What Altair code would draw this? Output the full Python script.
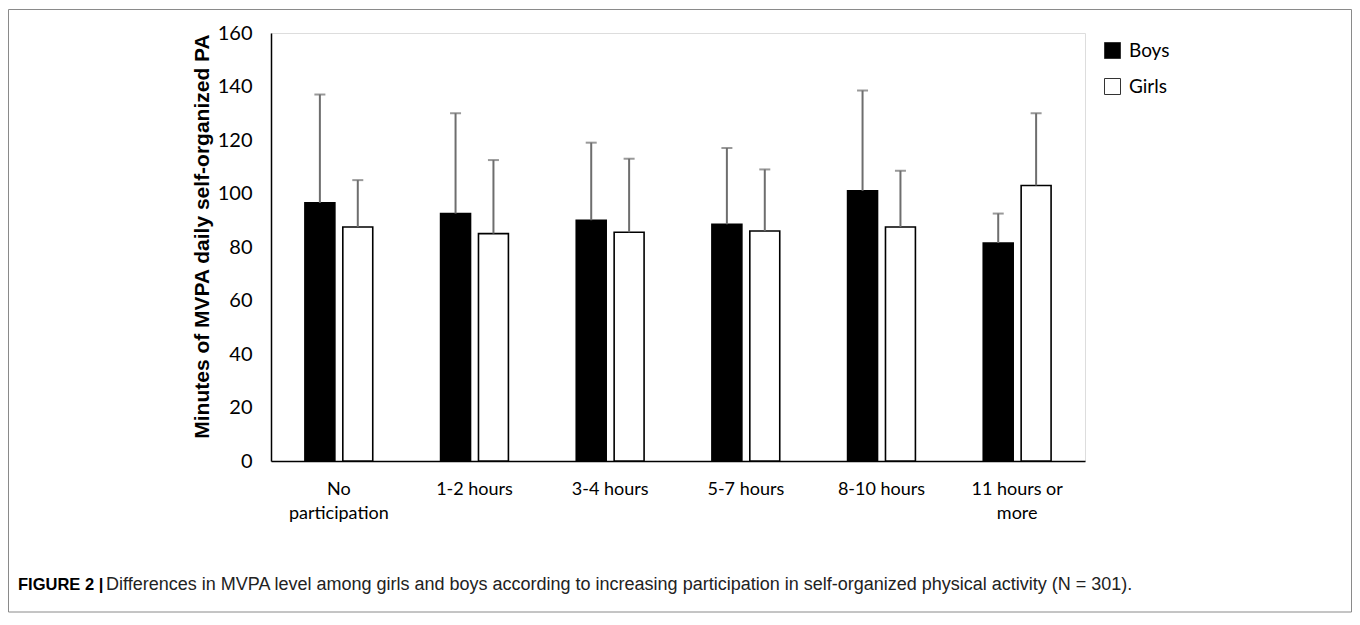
import altair as alt
import pandas as pd

categories = ["No participation", "1-2 hours", "3-4 hours", "5-7 hours", "8-10 hours", "11 hours or more"]
groups = ["Boys", "Girls"]
boys_mean = [96.5, 92.5, 90.0, 88.5, 101.0, 81.5]
boys_sd = [40.5, 37.5, 29.0, 28.5, 37.5, 11.0]
girls_mean = [87.5, 85.0, 85.5, 86.0, 87.5, 103.0]
girls_sd = [17.5, 27.5, 27.5, 23.0, 21.0, 27.0]
y_ticks = [0, 20, 40, 60, 80, 100, 120, 140, 160]

y_title = "Minutes of MVPA daily self-organized PA"
caption_bold = "FIGURE 2 |"
caption_text = ("Differences in MVPA level among girls and boys according to increasing "
                "participation in self-organized physical activity (N = 301).")

rows = []
for i, c in enumerate(categories):
    rows.append({"category": c, "group": "Boys", "mean": boys_mean[i], "sd": boys_sd[i]})
    rows.append({"category": c, "group": "Girls", "mean": girls_mean[i], "sd": girls_sd[i]})
df = pd.DataFrame(rows)

W, H = 814, 428
TICK_FONT = "Lato"

x_enc = alt.X("category:N", sort=categories,
              scale=alt.Scale(paddingInner=0.5, paddingOuter=0.25),
              axis=alt.Axis(title=None, labelAngle=0, ticks=False, domainColor="black",
                            domainWidth=1.5, labelFont=TICK_FONT, labelFontSize=18,
                            labelColor="black", labelPadding=19, labelLineHeight=24,
                            labelExpr="datum.label == 'No participation' ? ['No', 'participation'] : "
                                      "datum.label == '11 hours or more' ? ['11 hours or', 'more'] : datum.label"))
xoff = alt.XOffset("group:N", sort=groups, scale=alt.Scale(paddingInner=0.21, paddingOuter=0))
y_scale = alt.Scale(domain=[0, 160], nice=False)

base = alt.Chart(df)

bars = base.mark_bar(stroke="black", strokeWidth=1.6).encode(
    x=x_enc,
    xOffset=xoff,
    y=alt.Y("mean:Q", scale=y_scale,
            axis=alt.Axis(values=y_ticks, title=y_title, ticks=False, grid=False,
                          domainColor="black", domainWidth=1.5,
                          labelFont=TICK_FONT, labelFontSize=20, labelColor="black",
                          labelPadding=19, titleFont="Liberation Sans", titleFontSize=21,
                          titleFontWeight="bold", titleColor="black", titleAngle=-90,
                          titleX=-63, titleY=203, titleAlign="center",
                          titleBaseline="alphabetic")),
    fill=alt.Fill("group:N", sort=groups,
                  scale=alt.Scale(domain=groups, range=["black", "white"]),
                  legend=alt.Legend(title=None, orient="none", legendX=832, legendY=8,
                                    symbolType="square", symbolSize=256,
                                    symbolStrokeColor="#333333", symbolStrokeWidth=1,
                                    labelFont=TICK_FONT, labelFontSize=19,
                                    labelColor="black", labelOffset=7, rowPadding=15)),
)

err = base.transform_calculate(upper="datum.mean + datum.sd").mark_rule(
    color="#6e6e6e", strokeWidth=2).encode(
    x=alt.X("category:N", sort=categories), xOffset=xoff,
    y=alt.Y("mean:Q", scale=y_scale), y2="upper:Q")

caps = base.transform_calculate(upper="datum.mean + datum.sd").mark_tick(
    color="#6e6e6e", thickness=2, size=11).encode(
    x=alt.X("category:N", sort=categories), xOffset=xoff,
    y=alt.Y("upper:Q", scale=y_scale))

cap_df = pd.DataFrame({"bold": [caption_bold], "text": [caption_text]})
cap_bold = alt.Chart(cap_df).mark_text(
    align="left", baseline="alphabetic", font="Liberation Sans Narrow, Liberation Sans",
    fontWeight="bold", fontSize=16.5, color="black").encode(
    x=alt.value(-253), y=alt.value(557), text="bold:N")
cap_main = alt.Chart(cap_df).mark_text(
    align="left", baseline="alphabetic", font="Liberation Sans Narrow, Liberation Sans",
    fontSize=18, color="#222222").encode(
    x=alt.value(-165), y=alt.value(557), text="text:N")

frame = alt.Chart(cap_df).mark_rect(fill=None, stroke="#8a8a8a", strokeWidth=1).encode(
    x=alt.value(-262.5), x2=alt.value(1080.5), y=alt.value(-23.5), y2=alt.value(579))

chart = alt.layer(frame, bars, err, caps, cap_bold, cap_main).properties(
    width=W, height=H,
    autosize=alt.AutoSizeParams(type="none"),
    padding={"left": 263, "top": 25, "right": 267, "bottom": 156},
).configure_view(stroke=None).configure(background="white")

chart.save("out.html", embed_options={"renderer": "svg", "actions": False})
